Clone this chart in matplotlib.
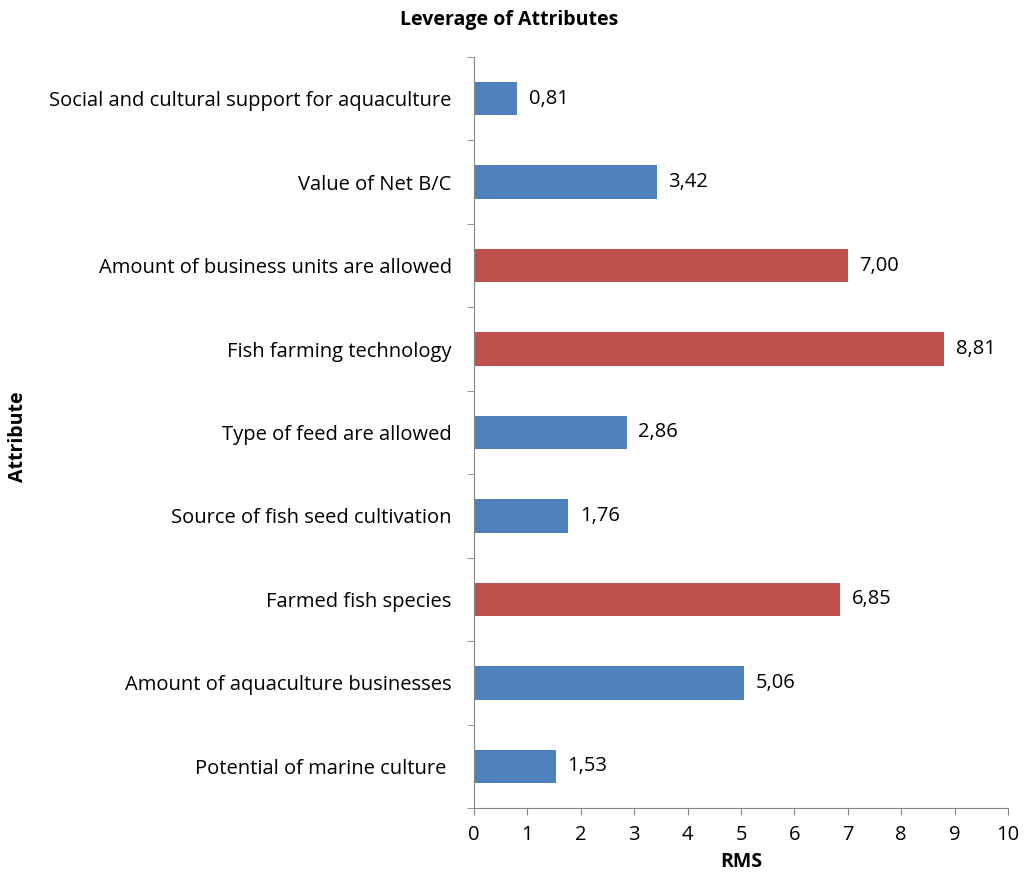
import matplotlib.pyplot as plt
import numpy as np

plt.rcParams['font.family'] = ['Open Sans', 'DejaVu Sans']

attributes = [
    "Potential of marine culture ",
    "Amount of aquaculture businesses",
    "Farmed fish species",
    "Source of fish seed cultivation",
    "Type of feed are allowed",
    "Fish farming technology",
    "Amount of business units are allowed",
    "Value of Net B/C",
    "Social and cultural support for aquaculture",
]
rms = [1.53, 5.06, 6.85, 1.76, 2.86, 8.81, 7.00, 3.42, 0.81]
highlight = [False, False, True, False, False, True, True, False, False]
xticks = list(range(0, 11))

blue = "#4F81BD"
red = "#C0504D"
axis_gray = "#868686"

fig = plt.figure(figsize=(10.24, 8.74), dpi=100)
ax = fig.add_axes([0.4629, 0.0755, 0.5215, 0.8593])

y = np.arange(len(attributes))
colors = [red if h else blue for h in highlight]
ax.barh(y, rms, height=0.4, color=colors)

for yi, v in zip(y, rms):
    ax.text(v + 0.22, yi, f"{v:.2f}".replace(".", ","), va="center", ha="left", fontsize=14.5)

ax.set_xlim(0, 10)
ax.set_ylim(-0.5, len(attributes) - 0.5)
ax.set_xticks(xticks)
ax.set_xticklabels([str(t) for t in xticks], fontsize=14.5)
ax.set_yticks(y)
ax.set_yticklabels(attributes, fontsize=14.5)
ax.set_yticks(np.arange(-0.5, len(attributes), 1), minor=True)
ax.tick_params(axis="y", which="major", length=0, pad=16)
ax.tick_params(axis="y", which="minor", length=5, color=axis_gray, direction="out")
ax.tick_params(axis="x", length=5, color=axis_gray, direction="out", pad=7)

for s in ["top", "right"]:
    ax.spines[s].set_visible(False)
for s in ["left", "bottom"]:
    ax.spines[s].set_color(axis_gray)

ax.set_xlabel("RMS", fontsize=14, fontweight="bold", labelpad=5)
fig.text(0.018, 0.5, "Attribute", rotation=90, fontsize=14, fontweight="bold", va="center", ha="center")
fig.text(0.497, 0.977, "Leverage of Attributes", fontsize=14, fontweight="bold", va="center", ha="center")

fig.savefig("out.png", dpi=100)
